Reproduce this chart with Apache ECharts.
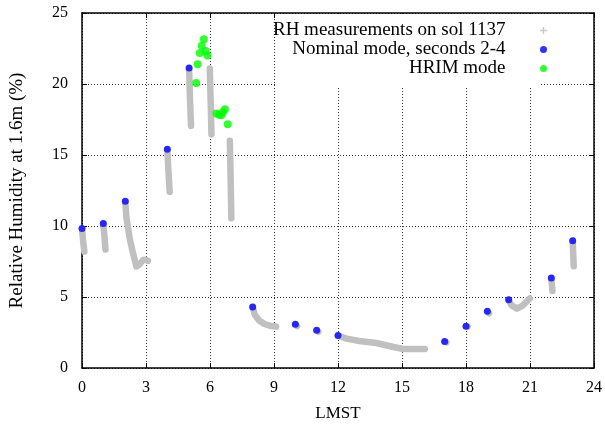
<!DOCTYPE html>
<html>
<head>
<meta charset="utf-8">
<script src="https://cdn.jsdelivr.net/npm/echarts@6/dist/echarts.min.js"></script>
<style>
  html, body { margin: 0; padding: 0; background: #fff; }
  #chart { width: 605px; height: 427px; }
</style>
</head>
<body>
<div id="chart"></div>
<script>
// Sol 1137 relative humidity at 1.6 m, by local mean solar time (hours).
// Continuous RH record; null marks a gap between observation blocks.
const rhHours = [
  0.00, 0.05, 0.11, null,
  1.00, 1.05, 1.10, null,
  2.03, 2.08, 2.24, 2.39, 2.55, 2.70, 2.85, 3.00, 3.09, null,
  4.00, 4.05, 4.11, null,
  5.02, 5.06, 5.11, null,
  5.99, 6.03, 6.07, null,
  6.93, 6.97, 7.00, null,
  8.00, 8.10, 8.30, 8.55, 8.80, 9.10, null,
  10.00, 10.08, null,
  11.00, 11.08, null,
  12.00, 12.40, 13.00, 13.80, 14.60, 15.05, 16.07, null,
  17.00, 17.08, null,
  18.00, 18.08, null,
  19.00, 19.08, null,
  20.00, 20.13, 20.39, 20.67, 20.99, null,
  22.00, 22.05, null,
  23.00, 23.05
];
const rhValues = [
  9.82, 9.00, 8.20, null,
  10.17, 9.30, 8.34, null,
  11.74, 10.60, 9.10, 8.10, 7.15, 7.30, 7.60, 7.62, 7.55, null,
  15.40, 13.90, 12.40, null,
  21.13, 19.00, 17.05, null,
  21.10, 18.80, 16.45, null,
  16.00, 13.20, 10.55, null,
  4.30, 3.75, 3.35, 3.10, 2.98, 2.92, null,
  3.08, 2.95, null,
  2.65, 2.55, null,
  2.28, 2.07, 1.90, 1.76, 1.48, 1.34, 1.34, null,
  1.86, 1.80, null,
  2.94, 2.90, null,
  3.99, 3.85, null,
  4.81, 4.41, 4.18, 4.41, 4.89, null,
  6.34, 5.42, null,
  8.97, 7.16
];

// Nominal mode, seconds 2-4
const nominalHours = [0.00, 1.00, 2.03, 4.00, 5.02, 8.00, 10.00, 11.00, 12.00, 17.00, 18.00, 19.00, 20.00, 22.00, 23.00];
const nominalRH    = [9.82, 10.17, 11.74, 15.40, 21.13, 4.30, 3.08, 2.65, 2.28, 1.86, 2.94, 3.99, 4.81, 6.34, 8.97];

// High-resolution interval mode
const hrimHours = [5.35, 5.42, 5.52, 5.61, 5.71, 5.80, 5.88, 6.30, 6.42, 6.53, 6.61, 6.70, 6.83];
const hrimRH    = [20.07, 21.39, 22.18, 22.70, 23.15, 22.32, 22.00, 17.92, 17.84, 17.80, 18.03, 18.22, 17.16];

const xTicks = [0, 3, 6, 9, 12, 15, 18, 21, 24];
const yTicks = [0, 5, 10, 15, 20, 25];

const seriesNames = ['RH measurements on sol 1137', 'Nominal mode, seconds 2-4', 'HRIM mode'];

const rhData = rhHours.map((h, i) => (h === null ? ['-', '-'] : [h, rhValues[i]]));
const nominalData = nominalHours.map((h, i) => [h, nominalRH[i]]);
const hrimData = hrimHours.map((h, i) => [h, hrimRH[i]]);

const serif = 'Liberation Serif, Times New Roman, serif';
const plusIcon = 'path://M4,0 L6,0 L6,4 L10,4 L10,6 L6,6 L6,10 L4,10 L4,6 L0,6 L0,4 L4,4 Z';

const gridDots = { show: true, lineStyle: { color: '#333', width: 1, type: [1, 2] } };
const frame = { show: true, onZero: false, lineStyle: { color: '#000', width: 1.5 } };
const inTicks = { show: true, inside: true, length: 5, lineStyle: { color: '#000' } };

const chart = echarts.init(document.getElementById('chart'), null, { renderer: 'canvas' });
chart.setOption({
  animation: false,
  backgroundColor: '#fff',
  grid: { left: 82, top: 13, right: 11, bottom: 59, containLabel: false, outerBoundsMode: 'none' },
  xAxis: [
    {
      type: 'value', min: 0, max: 24, interval: 3,
      name: 'LMST', nameLocation: 'middle', nameGap: 37,
      nameTextStyle: { fontFamily: serif, fontSize: 17, color: '#000' },
      axisLine: frame, axisTick: inTicks,
      axisLabel: { fontFamily: serif, fontSize: 16, color: '#000', margin: 12,
        formatter: v => (xTicks.includes(v) ? String(v) : '') },
      splitLine: gridDots
    },
    {
      type: 'value', min: 0, max: 24, interval: 3, position: 'top',
      axisLine: frame, axisTick: inTicks,
      axisLabel: { show: false }, splitLine: { show: false }
    }
  ],
  yAxis: [
    {
      type: 'value', min: 0, max: 25, interval: 5,
      name: 'Relative Humidity at 1.6m (%)', nameLocation: 'middle', nameGap: 55,
      nameTextStyle: { fontFamily: serif, fontSize: 19, color: '#000' },
      axisLine: frame, axisTick: inTicks,
      axisLabel: { fontFamily: serif, fontSize: 16, color: '#000', margin: 14,
        formatter: v => (yTicks.includes(v) ? String(v) : '') },
      splitLine: gridDots
    },
    {
      type: 'value', min: 0, max: 25, interval: 5, position: 'right',
      axisLine: frame, axisTick: inTicks,
      axisLabel: { show: false }, splitLine: { show: false }
    }
  ],
  graphic: [
    {
      type: 'rect', z: 1,
      shape: { x: 275, y: 14, width: 264, height: 72 },
      style: { fill: '#fff' }
    }
  ],
  legend: {
    orient: 'vertical', align: 'right',
    right: 53, top: 16,
    itemWidth: 66, itemHeight: 7, itemGap: 0,
    textStyle: { fontFamily: serif, fontSize: 19, color: '#000' },
    data: [
      { name: seriesNames[0], icon: plusIcon, itemStyle: { color: '#c8c8c8' } },
      { name: seriesNames[1], icon: 'circle' },
      { name: seriesNames[2], icon: 'circle' }
    ]
  },
  series: [
    {
      name: seriesNames[0], type: 'line', data: rhData, xAxisIndex: 0, yAxisIndex: 0,
      showSymbol: false, symbol: 'none', connectNulls: false,
      lineStyle: { color: '#c0c0c0', width: 6.5, cap: 'round', join: 'round' },
      itemStyle: { color: '#c0c0c0' }, z: 2
    },
    {
      name: seriesNames[1], type: 'scatter', data: nominalData,
      symbol: 'circle', symbolSize: 7, itemStyle: { color: '#0000ff' }, z: 3
    },
    {
      name: seriesNames[2], type: 'scatter', data: hrimData,
      symbol: 'circle', symbolSize: 8, itemStyle: { color: '#00ff00' }, z: 3
    }
  ]
});
</script>
</body>
</html>
